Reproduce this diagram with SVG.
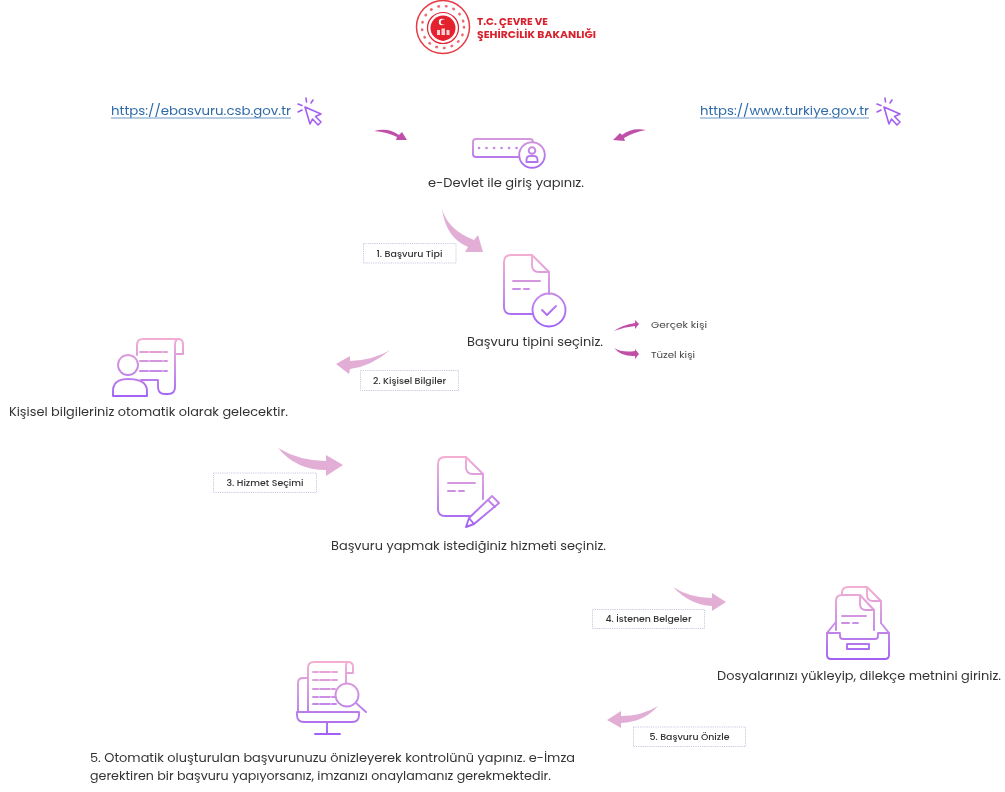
<svg xmlns="http://www.w3.org/2000/svg" width="1005" height="792" viewBox="0 0 1005 792">
<style>
text{font-family:"Poppins","Inter","Liberation Sans",sans-serif}
.t{font-size:13px;fill:#333}
.l{font-size:9px;fill:#333;text-anchor:middle;font-weight:500}
.o{font-size:9.500px;fill:#444}
.u{font-size:13px;fill:#2f6ba8}
.ul{stroke:#6d9bc8;stroke-width:1;fill:none}
.b{fill:#fff;stroke:#c9c9e2;stroke-width:1;stroke-dasharray:1.200 1}
.i{fill:none;stroke-width:1.900;stroke-linecap:round;stroke-linejoin:round}
.s1{fill:#c04fa8}
.s2{fill:#e3aed6}
.cur{fill:none;stroke:#a45ff0;stroke-width:1.600;stroke-linejoin:round;stroke-linecap:round}
.rd{fill:#e4202e}
</style>
<defs>
<linearGradient id="g1" gradientUnits="userSpaceOnUse" x1="0" y1="254" x2="0" y2="326"><stop offset="0" stop-color="#f4aed2"/><stop offset=".55" stop-color="#c68ae6"/><stop offset="1" stop-color="#a05ff6"/></linearGradient>
<linearGradient id="g2" gradientUnits="userSpaceOnUse" x1="0" y1="338" x2="0" y2="398"><stop offset="0" stop-color="#f4aed2"/><stop offset=".55" stop-color="#c68ae6"/><stop offset="1" stop-color="#a05ff6"/></linearGradient>
<linearGradient id="g3" gradientUnits="userSpaceOnUse" x1="0" y1="457" x2="0" y2="528"><stop offset="0" stop-color="#f4aed2"/><stop offset=".55" stop-color="#c68ae6"/><stop offset="1" stop-color="#a05ff6"/></linearGradient>
<linearGradient id="g4" gradientUnits="userSpaceOnUse" x1="0" y1="587" x2="0" y2="660"><stop offset="0" stop-color="#f4aed2"/><stop offset=".55" stop-color="#c68ae6"/><stop offset="1" stop-color="#a05ff6"/></linearGradient>
<linearGradient id="g5" gradientUnits="userSpaceOnUse" x1="0" y1="661" x2="0" y2="735"><stop offset="0" stop-color="#f4aed2"/><stop offset=".55" stop-color="#c68ae6"/><stop offset="1" stop-color="#a05ff6"/></linearGradient>
<linearGradient id="g6" gradientUnits="userSpaceOnUse" x1="0" y1="138" x2="0" y2="168"><stop offset="0" stop-color="#d69add"/><stop offset="1" stop-color="#a868f2"/></linearGradient>
<filter id="soft" x="-5%" y="-5%" width="110%" height="110%"><feGaussianBlur stdDeviation="0.450"/></filter>
<g id="cursor">
<path class="cur" d="M6 8 L22 15 L16.500 17.500 L22 23 L19 26 L13.500 20 L11 25 Z"/>
<path class="cur" d="M7 -1 L7.500 3 M-1 5 L3 6.500 M14 1 L12 4 M-1 13 L3 11"/>
</g>
</defs>
<rect width="1005" height="792" fill="#fff"/>
<g filter="url(#soft)">
<g id="logo">
<circle cx="443" cy="27" r="26.500" fill="none" stroke="#e63a44" stroke-width="1.500"/>
<circle cx="443" cy="27" r="21" fill="none" stroke="#ee6a72" stroke-width="2.600" stroke-linecap="round" stroke-dasharray="0.500 7.300"/>
<circle cx="443" cy="28" r="15.500" fill="none" stroke="#e4202e" stroke-width="1.200"/>
<circle cx="443" cy="28" r="12.500" class="rd"/>
<circle cx="442" cy="22" r="3.200" fill="#fff"/><circle cx="443.400" cy="22" r="2.600" fill="#e4202e"/>
<path d="M437 35 V30 H440 V35 M441.500 35 V28.500 H445 V35 M446.500 35 V30 H449.500 V35" fill="#fff" opacity=".8"/>
<path d="M432 37 Q443 43 454 37 L443 41 Z" fill="#e4202e"/>
<text x="477" y="25" font-size="10.500" font-weight="700" fill="#d8232e" textLength="71" lengthAdjust="spacingAndGlyphs">T.C. ÇEVRE VE</text>
<text x="477" y="38" font-size="10.500" font-weight="700" fill="#d8232e" textLength="119" lengthAdjust="spacingAndGlyphs">ŞEHİRCİLİK BAKANLIĞI</text>
</g>
<g id="link-ebasvuru">
<text class="u" x="111" y="115" textLength="180" lengthAdjust="spacingAndGlyphs">https://ebasvuru.csb.gov.tr</text>
<path class="ul" d="M111 118 H291"/>
<use href="#cursor" x="299" y="99"/>
</g>
<g id="link-turkiye">
<text class="u" x="700" y="115" textLength="169" lengthAdjust="spacingAndGlyphs">https://www.turkiye.gov.tr</text>
<path class="ul" d="M700 118 H869"/>
<use href="#cursor" x="878" y="99"/>
</g>
<g id="node-edevlet">
<g class="i" stroke="url(#g6)">
<path d="M519 157 H476 Q473 157 473 154 V142 Q473 139 476 139 H530 Q533 139 533 142"/>
<circle cx="532" cy="155" r="12.800"/>
<circle cx="532" cy="150.500" r="3.300"/>
<path d="M526.500 162 V160 Q526.500 156 530 156 H534 Q537.500 156 537.500 160 V162 Z"/>
<path d="M479 148 H479.100 M486.500 148 H486.600 M494 148 H494.100 M501.500 148 H501.600 M509 148 H509.100 M516.500 148 H516.600" stroke-width="2.600"/>
</g>
<text class="t" x="428" y="187" textLength="156" lengthAdjust="spacingAndGlyphs">e-Devlet ile giriş yapınız.</text>
</g>
<g id="node-basvuru-tipi">
<g class="i" stroke="url(#g1)">
<path d="M549 294 V272 L532 255 H511 Q504 255 504 262 V307 Q504 314 511 314 H533"/>
<path d="M532 255 V265 Q532 272 539 272 H549"/>
<path d="M513 281 H540 M513 289 H520 M524 289 H529"/>
<circle cx="549" cy="310" r="16.500"/>
<path d="M542 310 L547 315 L556 306"/>
</g>
<text class="t" x="467" y="346" textLength="136" lengthAdjust="spacingAndGlyphs">Başvuru tipini seçiniz.</text>
</g>
<g id="node-gercek"><text class="o" x="651" y="328" textLength="56" lengthAdjust="spacingAndGlyphs">Gerçek kişi</text></g>
<g id="node-tuzel"><text class="o" x="651" y="358" textLength="44" lengthAdjust="spacingAndGlyphs">Tüzel kişi</text></g>
<g id="node-kisisel">
<g class="i" stroke="url(#g2)">
<path d="M137 355 V345 Q137 339 143 339 H178 Q183 339 183 344 V354 H175"/>
<path d="M178 339 Q175 340 175 345 V387 Q175 394 168 394 H165 Q158 394 158 387 V380 H141"/>
<path d="M140 352 H167 M140 361 H167 M140 371 H167" stroke-dasharray="8 2 12 2"/>
<circle cx="128" cy="365" r="10"/>
<path d="M113 396 V391 Q113 379 128 379 Q147 379 147 391 V396 Z"/>
</g>
<text class="t" x="9" y="416" textLength="279" lengthAdjust="spacingAndGlyphs">Kişisel bilgileriniz otomatik olarak gelecektir.</text>
</g>
<g id="node-hizmet">
<g class="i" stroke="url(#g3)">
<path d="M483 499 V474 L466 457 H445 Q438 457 438 464 V509 Q438 516 445 516 H470"/>
<path d="M466 457 V467 Q466 474 473 474 H483"/>
<path d="M448 483 H475 M448 491 H455 M459 491 H464"/>
<path d="M492 496 L499 503 L474 524 L466 527 L469 518 Z M488 500 L495 507 M469 518 L474 524"/>
</g>
<text class="t" x="331" y="550" textLength="275" lengthAdjust="spacingAndGlyphs">Başvuru yapmak istediğiniz hizmeti seçiniz.</text>
</g>
<g id="node-dosya">
<g class="i" stroke="url(#g4)">
<path d="M842 595 V593 Q842 587 848 587 H867 L881 601 V623"/>
<path d="M867 587 V595 Q867 601 873 601 H881"/>
<path d="M836 630 V601 Q836 595 842 595 H860 L874 610 V630"/>
<path d="M860 595 V604 Q860 610 866 610 H874"/>
<path d="M842 616 H866 M842 623 H849 M853 623 H858"/>
<path d="M835 623 L827 633 V655 Q827 659 831 659 H885 Q889 659 889 655 V633 L881 623"/>
<path d="M827 633 H840 V636 Q840 639 843 639 H875 Q878 639 878 636 V633 H889"/>
<rect x="847" y="644" width="22" height="5"/>
</g>
<text class="t" x="717" y="680" textLength="284" lengthAdjust="spacingAndGlyphs">Dosyalarınızı yükleyip, dilekçe metnini giriniz.</text>
</g>
<g id="node-onizle">
<g class="i" stroke="url(#g5)">
<path d="M308 712 V668 Q308 662 314 662 H348 Q353 662 353 667 V673 H346 V667 Q346 662 348 662"/>
<path d="M346 673 V684"/>
<path d="M308 678 H303 Q298 678 298 683 V712"/>
<path d="M297 712 H359 V715 Q359 722 352 722 H304 Q297 722 297 715 Z"/>
<path d="M327 722 V734 M315 734 H340"/>
<path d="M313 672 H338 M313 680 H337 M313 689 H335 M313 697 H336 M313 704 H336" stroke-dasharray="5 2 10 2"/>
<circle cx="347" cy="695" r="11.500" fill="#fff"/>
<path d="M356 703 L366 712"/>
</g>
</g>
<g id="node-imza">
<text class="t" x="90" y="762" textLength="485" lengthAdjust="spacingAndGlyphs">5. Otomatik oluşturulan başvurunuzu önizleyerek kontrolünü yapınız. e-İmza</text>
<text class="t" x="90" y="780" textLength="461" lengthAdjust="spacingAndGlyphs">gerektiren bir başvuru yapıyorsanız, imzanızı onaylamanız gerekmektedir.</text>
</g>
<g id="connectors">
<path class="s1" d="M374 131 Q388 127 399 135 L402 132 L407 140 L396 140 L397 137 Q387 132 374 131 Z"/>
<path class="s1" d="M646 130 Q632 127 622 135 L620 133 L613 140 L625 141 L624 138 Q634 132 646 130 Z"/>
<path class="s2" d="M442 209 Q448 230 474 240 L478 235 L483 252 L465 252 L468 247 Q446 238 442 209 Z"/>
<path class="s1" d="M614 331 Q622 325 635 323 L635 320 L639 324 L635 329 L635 326 Q624 327 614 331 Z"/>
<path class="s1" d="M614 348 Q622 353 635 351 L635 349 L639 354 L635 359 L635 356 Q622 357 614 348 Z"/>
<path class="s2" d="M390 350 Q374 360 350 361 L350 356 L336 364 L349 374 L350 369 Q372 366 390 350 Z"/>
<path class="s2" d="M278 448 Q300 461 326 461 L326 455 L343 465 L326 476 L326 470 Q296 470 278 448 Z"/>
<path class="s2" d="M673 587 Q690 598 712 598 L712 593 L726 602 L712 611 L712 606 Q690 605 673 587 Z"/>
<path class="s2" d="M658 706 Q642 716 621 716 L621 711 L607 720 L621 728 L621 723 Q644 722 658 706 Z"/>
</g>
<g id="label-1"><rect class="b" x="363.500" y="243.500" width="92.500" height="19.500"/><text class="l" x="409.500" y="257" textLength="66" lengthAdjust="spacingAndGlyphs">1. Başvuru Tipi</text></g>
<g id="label-2"><rect class="b" x="360.500" y="370.500" width="98" height="20"/><text class="l" x="409.500" y="384" textLength="73" lengthAdjust="spacingAndGlyphs">2. Kişisel Bilgiler</text></g>
<g id="label-3"><rect class="b" x="213.500" y="473" width="103" height="19.500"/><text class="l" x="265" y="486" textLength="77" lengthAdjust="spacingAndGlyphs">3. Hizmet Seçimi</text></g>
<g id="label-4"><rect class="b" x="592.500" y="609.500" width="112" height="19"/><text class="l" x="648.500" y="622" textLength="86" lengthAdjust="spacingAndGlyphs">4. İstenen Belgeler</text></g>
<g id="label-5"><rect class="b" x="633.500" y="727" width="112" height="19.500"/><text class="l" x="689.500" y="740" textLength="80" lengthAdjust="spacingAndGlyphs">5. Başvuru Önizle</text></g>
</g>
</svg>
